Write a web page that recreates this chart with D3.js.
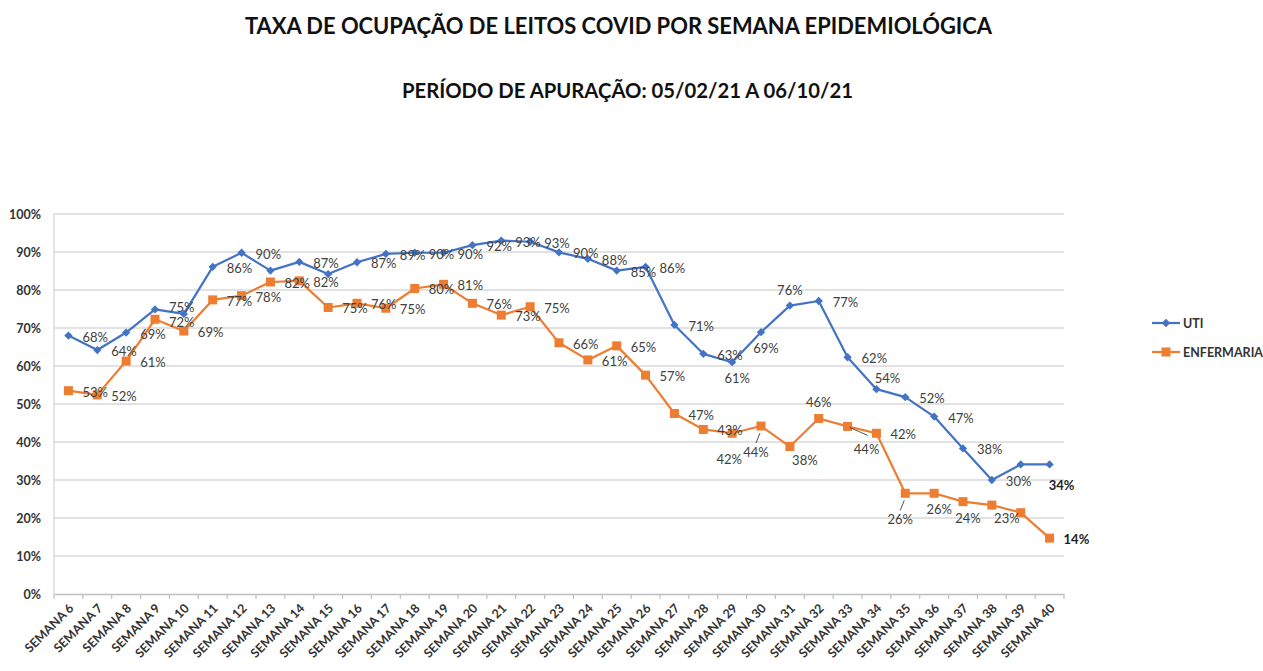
<!DOCTYPE html>
<html>
<head>
<meta charset="utf-8">
<script src="https://cdn.jsdelivr.net/npm/d3@7"></script>
<style>
  html, body { margin: 0; padding: 0; background: #fff; }
  svg { display: block; font-family: Lato, "Open Sans", sans-serif; }
</style>
</head>
<body>
<svg id="chart" width="1263" height="671"></svg>
<script>
const weeks = ["SEMANA 6","SEMANA 7","SEMANA 8","SEMANA 9","SEMANA 10","SEMANA 11","SEMANA 12","SEMANA 13","SEMANA 14","SEMANA 15","SEMANA 16","SEMANA 17","SEMANA 18","SEMANA 19","SEMANA 20","SEMANA 21","SEMANA 22","SEMANA 23","SEMANA 24","SEMANA 25","SEMANA 26","SEMANA 27","SEMANA 28","SEMANA 29","SEMANA 30","SEMANA 31","SEMANA 32","SEMANA 33","SEMANA 34","SEMANA 35","SEMANA 36","SEMANA 37","SEMANA 38","SEMANA 39","SEMANA 40"];

const uti = [68.0,64.2,68.8,74.9,73.7,86.1,89.8,85.1,87.4,84.2,87.3,89.5,89.8,89.8,91.8,93.0,92.7,89.9,88.2,85.1,86.1,70.8,63.2,61.0,68.9,75.9,77.1,62.3,53.9,51.8,46.7,38.3,30.0,34.1,34.1];
const enfermaria = [53.5,52.4,61.3,72.3,69.2,77.4,78.5,82.1,82.4,75.4,76.5,75.2,80.4,81.5,76.5,73.4,75.6,66.1,61.6,65.3,57.6,47.5,43.3,42.3,44.2,38.8,46.2,44.1,42.3,26.5,26.5,24.3,23.4,21.4,14.7];

const utiLabels = ["68%","64%","69%","75%",null,"86%","90%",null,"87%",null,"87%","89%","90%","90%","92%","93%","93%","90%","88%","85%","86%","71%","63%","61%","69%","76%","77%","62%","54%","52%","47%","38%","30%",null,"34%"];
const enfLabels = ["53%","52%","61%","72%","69%","77%","78%","82%","82%","75%","76%","75%","80%","81%","76%","73%","75%","66%","61%","65%","57%","47%","43%","42%","44%","38%","46%","44%","42%","26%","26%","24%","23%",null,"14%"];

// label placement codes (Excel-like data label positions)
const utiPlace = ["r","r","r","ru","n","r","r","n","r","n","r","r","r","r","r","r","r","r","r","r","r","r","r","b","b","a","r","r","ar","r","r","r","r","n","brf"];
const enfPlace = ["r","r","r","rd","r","r","r","r","r","r","r","r","r","r","r","r","r","r","r","r","r","r","r","bf","bfl","br","a","brl","r","bfl","b","b","br","n","r"];

const yTicks = [0,10,20,30,40,50,60,70,80,90,100];
const seriesNames = ["UTI","ENFERMARIA"];
const colors = ["#4472C4","#ED7D31"];

const title = "TAXA DE OCUPAÇÃO DE LEITOS COVID POR SEMANA EPIDEMIOLÓGICA";
const subtitle = "PERÍODO DE APURAÇÃO: 05/02/21 A 06/10/21";

const svg = d3.select("#chart");
const pL = 54, pR = 1064, pT = 214, pB = 594;

const x = d3.scaleBand().domain(weeks).range([pL, pR]).padding(0);
const y = d3.scaleLinear().domain([0, 100]).range([pB, pT]);
const cx = w => x(w) + x.bandwidth() / 2;

// Titles
svg.append("text").attr("x", 245).attr("y", 34).attr("textLength", 747).attr("lengthAdjust", "spacingAndGlyphs")
  .attr("font-size", 22).attr("font-weight", "bold").attr("fill", "#111").text(title);
svg.append("text").attr("x", 402).attr("y", 98).attr("textLength", 451).attr("lengthAdjust", "spacingAndGlyphs")
  .attr("font-size", 20).attr("font-weight", "bold").attr("fill", "#111").text(subtitle);

// Gridlines
svg.append("g").selectAll("line").data(yTicks.filter(t => t > 0)).join("line")
  .attr("x1", pL).attr("x2", pR).attr("y1", d => y(d)).attr("y2", d => y(d))
  .attr("stroke", "#d9d9d9").attr("stroke-width", 1.4);

// Left axis line
svg.append("line").attr("x1", pL).attr("x2", pL).attr("y1", pT).attr("y2", pB)
  .attr("stroke", "#d9d9d9").attr("stroke-width", 1.4);

// Y axis labels
const yAxis = d3.axisLeft(y).tickValues(yTicks).tickFormat(d => d + "%").tickSize(0).tickPadding(13);
const gy = svg.append("g").attr("transform", `translate(${pL},0)`).call(yAxis);
gy.select(".domain").remove();
gy.selectAll("text").attr("font-family", "Lato, sans-serif").attr("font-size", 12.5).attr("font-weight", "bold").attr("fill", "#333");

// X axis
const xAxis = d3.axisBottom(x).tickSize(0).tickFormat(d => d);
const gx = svg.append("g").attr("transform", `translate(0,${pB})`).call(xAxis);
gx.select(".domain").attr("stroke", "#bfbfbf").attr("stroke-width", 1.4);
gx.selectAll("text")
  .attr("font-family", "Lato, sans-serif").attr("font-size", 12.5).attr("font-weight", "bold").attr("fill", "#333")
  .attr("text-anchor", "end").attr("dy", 0).attr("y", 0)
  .attr("transform", "translate(6,15) rotate(-45)");
// boundary ticks
const bounds = weeks.map(w => x(w)).concat([pR]);
svg.append("g").selectAll("line").data(bounds).join("line")
  .attr("x1", d => d).attr("x2", d => d).attr("y1", pB).attr("y2", pB + 5)
  .attr("stroke", "#bfbfbf").attr("stroke-width", 1.2);

// Lines
const line = d3.line().x((d, i) => cx(weeks[i])).y(d => y(d));
[uti, enfermaria].forEach((s, k) => {
  svg.append("path").datum(s).attr("d", line).attr("fill", "none")
    .attr("stroke", colors[k]).attr("stroke-width", 2.2).attr("stroke-linejoin", "round");
});

// Markers
svg.append("g").selectAll("path").data(uti).join("path")
  .attr("transform", (d, i) => `translate(${cx(weeks[i])},${y(d)})`)
  .attr("d", d3.symbol(d3.symbolDiamond2, 44)).attr("fill", colors[0]);
svg.append("g").selectAll("rect").data(enfermaria).join("rect")
  .attr("x", (d, i) => cx(weeks[i]) - 4.5).attr("y", d => y(d) - 4.5)
  .attr("width", 9).attr("height", 9).attr("fill", colors[1]);

// Data labels
const offsets = {
  r:   {dx: 14, dy: 6,  anchor: "start"},
  ru:  {dx: 14, dy: 3,  anchor: "start"},
  rd:  {dx: 14, dy: 8,  anchor: "start"},
  b:   {dx: 5,  dy: 21, anchor: "middle"},
  a:   {dx: 0,  dy: -11, anchor: "middle"},
  ar:  {dx: 11, dy: -6, anchor: "middle"},
  br:  {dx: 15, dy: 18, anchor: "middle"},
  brf: {dx: 12, dy: 26, anchor: "middle"},
  bf:  {dx: -3, dy: 31, anchor: "middle"},
  bfl: {dx: -5, dy: 31, anchor: "middle", leader: [[-1, 7], [-5, 17]]},
  brl: {dx: 19, dy: 28, anchor: "middle", leader: [[2, 1], [20, 9]]}
};
function drawLabels(vals, labs, places) {
  const g = svg.append("g");
  vals.forEach((v, i) => {
    const p = places[i];
    if (!labs[i] || p === "n") return;
    const o = offsets[p];
    const px = cx(weeks[i]), py = y(v);
    if (o.leader) {
      g.append("line").attr("x1", px + o.leader[0][0]).attr("y1", py + o.leader[0][1])
        .attr("x2", px + o.leader[1][0]).attr("y2", py + o.leader[1][1])
        .attr("stroke", "#404040").attr("stroke-width", 0.9);
    }
    g.append("text").attr("x", px + o.dx).attr("y", py + o.dy)
      .attr("text-anchor", o.anchor).attr("font-size", 13)
      .attr("font-weight", i === vals.length - 1 ? "bold" : "normal")
      .attr("fill", i === vals.length - 1 ? "#222" : "#404040").text(labs[i]);
  });
}
drawLabels(uti, utiLabels, utiPlace);
drawLabels(enfermaria, enfLabels, enfPlace);

// Legend
const legY = [323, 352];
seriesNames.forEach((name, k) => {
  const g = svg.append("g");
  g.append("line").attr("x1", 1152).attr("x2", 1180).attr("y1", legY[k]).attr("y2", legY[k])
    .attr("stroke", colors[k]).attr("stroke-width", 2.2);
  if (k === 0) {
    g.append("path").attr("transform", `translate(1166,${legY[k]})`)
      .attr("d", d3.symbol(d3.symbolDiamond2, 44)).attr("fill", colors[k]);
  } else {
    g.append("rect").attr("x", 1161.5).attr("y", legY[k] - 4.5).attr("width", 9).attr("height", 9).attr("fill", colors[k]);
  }
  g.append("text").attr("x", 1183).attr("y", legY[k] + 4.5).attr("font-size", 12.5)
    .attr("font-weight", "bold").attr("fill", "#333").text(name);
});
</script>
</body>
</html>
